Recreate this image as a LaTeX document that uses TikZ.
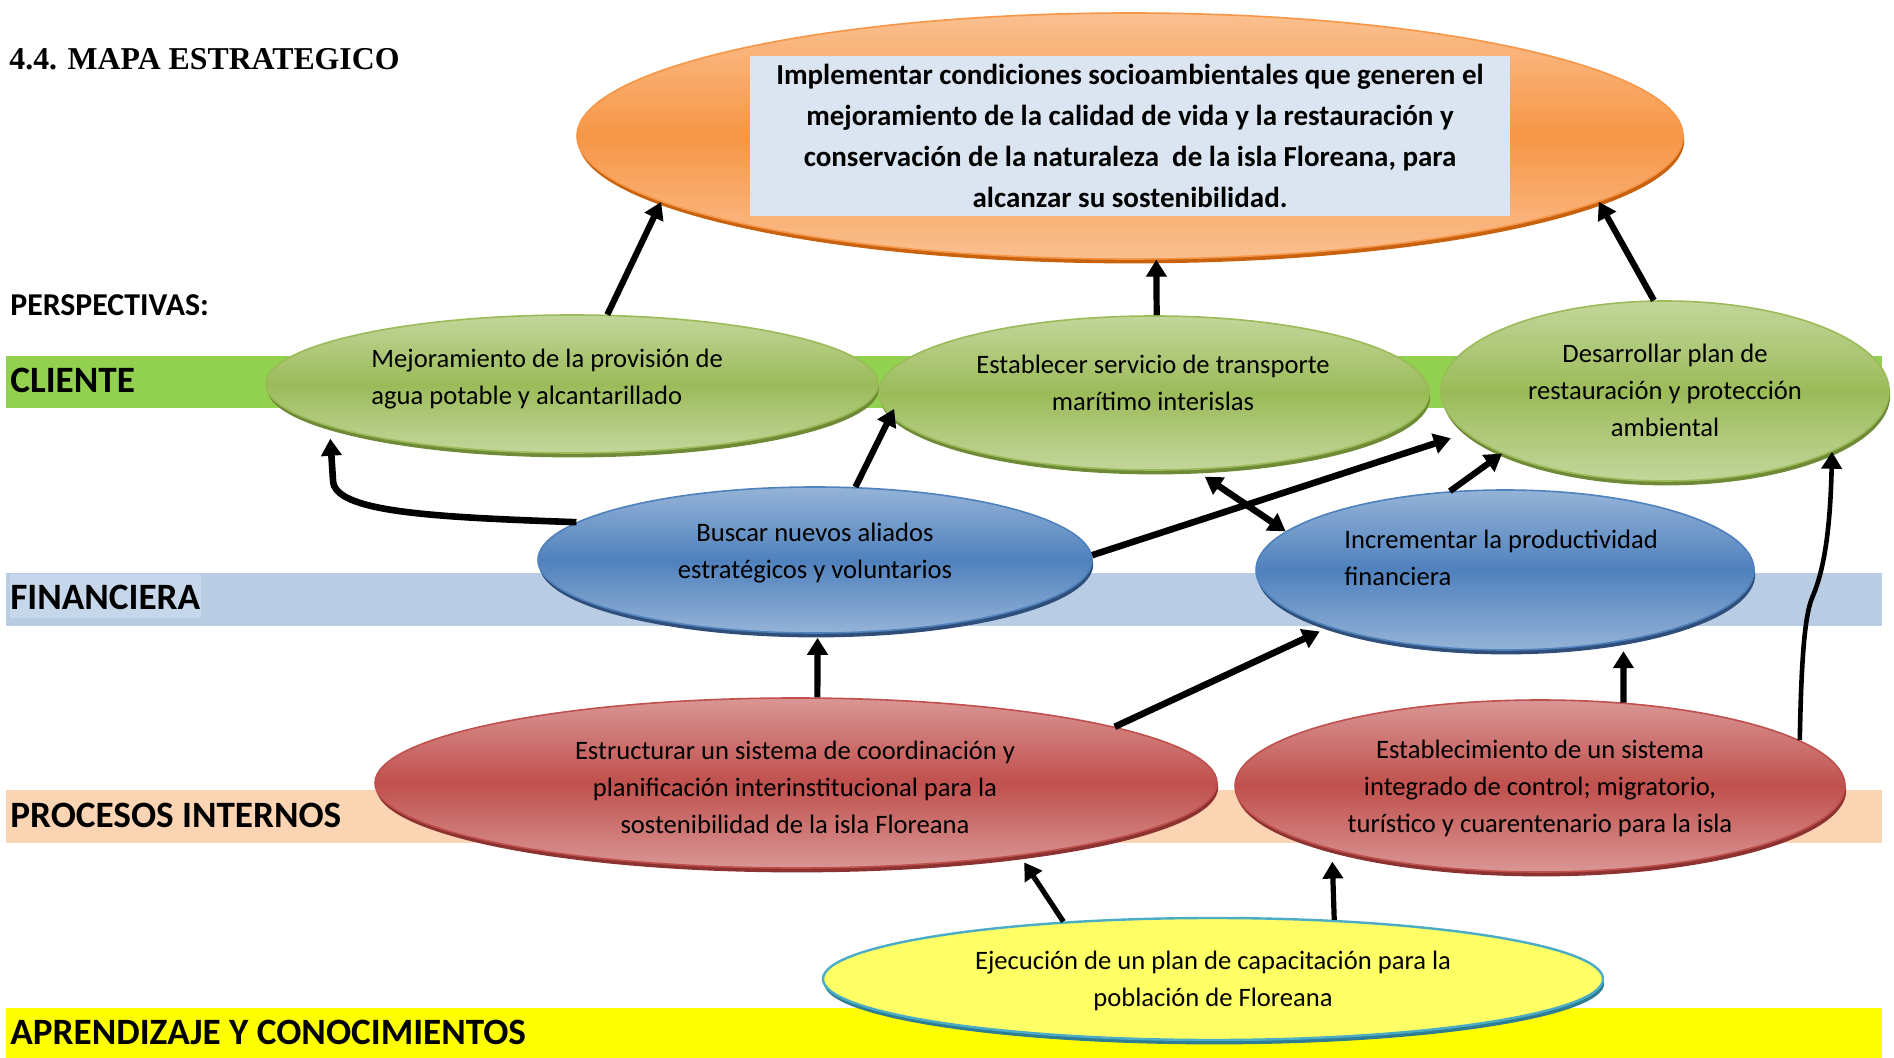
\documentclass[tikz,border=0pt]{standalone}
\usepackage{fontspec}
\setmainfont{Carlito}
\newfontfamily\titlefont{Liberation Serif}
\usetikzlibrary{shapes.geometric,arrows.meta,shadows,calc}
\definecolor{orL}{HTML}{FAC090}
\definecolor{orD}{HTML}{F79646}
\definecolor{orS}{HTML}{C8620E}
\definecolor{grL}{HTML}{C3D69B}
\definecolor{grD}{HTML}{9BBB59}
\definecolor{grS}{HTML}{6E8A36}
\definecolor{blL}{HTML}{95B3D7}
\definecolor{blD}{HTML}{4F81BD}
\definecolor{blS}{HTML}{2F4F7A}
\definecolor{rdL}{HTML}{D99694}
\definecolor{rdD}{HTML}{C0504D}
\definecolor{rdS}{HTML}{8C3230}
\definecolor{ylF}{HTML}{FFFF66}
\definecolor{ylE}{HTML}{4BACC6}
\definecolor{ylS}{HTML}{2E7D92}
\definecolor{bandG}{HTML}{92D050}
\definecolor{bandB}{HTML}{B8CCE4}
\definecolor{bandBL}{HTML}{C6D6EB}
\definecolor{bandP}{HTML}{FBD4B4}
\definecolor{bandY}{HTML}{FFFF00}
\definecolor{boxB}{HTML}{DBE5F1}
\tikzset{
  ov/.style={ellipse, inner sep=0pt, line width=0.8pt},
  ovO/.style={ov, draw=orD, top color=orL, bottom color=orL, middle color=orD,
     drop shadow={shadow xshift=0.6pt, shadow yshift=-2.2pt, fill=orS, opacity=1}},
  ovG/.style={ov, draw=grD, top color=grL, bottom color=grL, middle color=grD,
     drop shadow={shadow xshift=0.6pt, shadow yshift=-2.2pt, fill=grS, opacity=1}},
  ovB/.style={ov, draw=blD, top color=blL, bottom color=blL, middle color=blD,
     drop shadow={shadow xshift=0.6pt, shadow yshift=-2.2pt, fill=blS, opacity=1}},
  ovR/.style={ov, draw=rdD, top color=rdL, bottom color=rdL, middle color=rdD,
     drop shadow={shadow xshift=0.6pt, shadow yshift=-2.2pt, fill=rdS, opacity=1}},
  ovY/.style={ov, draw=ylE, line width=1.2pt, fill=ylF,
     drop shadow={shadow xshift=0.6pt, shadow yshift=-2.2pt, fill=ylS, opacity=1}},
  txt/.style={inner sep=0pt, font=\fontsize{13.3}{18.5}\selectfont},
  lab/.style={inner sep=0pt, anchor=west, font=\bfseries\fontsize{18.6}{22}\selectfont},
  arr/.style={-{Triangle[length=8.5pt,width=10pt]}, line width=3.1pt},
  darr/.style={{Triangle[length=8.5pt,width=10pt]}-{Triangle[length=8.5pt,width=10pt]}, line width=3.3pt}
}
\begin{document}
\begin{tikzpicture}[x=0.5pt,y=-0.5pt]
\useasboundingbox (0,0) rectangle (1894,1058);
\fill[white] (0,0) rectangle (1894,1058);
% bands
\fill[bandG] (6,356) rectangle (1882,408);
\fill[bandB] (6,573) rectangle (1882,626);
\fill[bandBL] (10,574) rectangle (201,618);
\fill[bandP] (6,790) rectangle (1882,843);
\fill[bandY] (6,1008) rectangle (1882,1058);
% labels
\node[inner sep=0pt, anchor=west, font=\titlefont\bfseries\fontsize{15.9}{18}\selectfont] (title) at (9,59) {4.4. MAPA ESTRATEGICO};
\node[inner sep=0pt, anchor=west, font=\bfseries\fontsize{15.9}{18}\selectfont] (persp) at (10,305) {PERSPECTIVAS:};
\node[lab] (lcli) at (10,380) {CLIENTE};
\node[lab] (lfin) at (10,597) {FINANCIERA};
\node[lab] (lpro) at (10,815) {PROCESOS INTERNOS};
\node[lab] (lapr) at (10,1032) {APRENDIZAJE Y CONOCIMIENTOS};
% ellipses
\node[ovO, minimum width=553pt, minimum height=123pt] (O) at (1130,136) {};
\node[fill=boxB, inner sep=0pt, minimum width=380pt, minimum height=80pt, align=center,
  font=\bfseries\fontsize{14.5}{20.5}\selectfont] (Otxt) at (1130,136)
  {Implementar condiciones socioambientales que generen el\\
   mejoramiento de la calidad de vida y la restauración y\\
   conservación de la naturaleza\ \ de la isla Floreana, para\\
   alcanzar su sostenibilidad.};
\node[ovG, minimum width=306pt, minimum height=69pt] (G1) at (572,384) {};
\node[ovG, minimum width=275pt, minimum height=77pt] (G2) at (1154,393) {};
\node[ovG, minimum width=224pt, minimum height=90pt] (G3) at (1665,391) {};
\node[ovB, minimum width=277pt, minimum height=73pt] (B1) at (815,560) {};
\node[ovB, minimum width=249pt, minimum height=80pt] (B2) at (1505,570) {};
\node[ovR, minimum width=421pt, minimum height=85pt] (R1) at (796,783) {};
\node[ovR, minimum width=305pt, minimum height=86pt] (R2) at (1540,786) {};
\node[ovY, minimum width=390pt, minimum height=61pt] (Y) at (1213,979) {};
% texts
\node[txt, align=left, anchor=west] (G1t) at (371,379) {Mejoramiento de la provisión de\\agua potable y alcantarillado};
\node[txt, align=center] (G2t) at (1153,383) {Establecer servicio de transporte\\marítimo interislas};
\node[txt, align=center] (G3t) at (1665,390) {Desarrollar plan de\\restauración y protección\\ambiental};
\node[txt, align=center] (B1t) at (815,553) {Buscar nuevos aliados\\estratégicos y voluntarios};
\node[txt, align=left, anchor=west] (B2t) at (1344,558) {Incrementar la productividad\\financiera};
\node[txt, align=center] (R1t) at (795,787) {Estructurar un sistema de coordinación y\\planificación interinstitucional para la\\sostenibilidad de la isla Floreana};
\node[txt, align=center] (R2t) at (1540,788) {Establecimiento de un sistema\\integrado de control; migratorio,\\turístico y cuarentenario para la isla};
\node[txt, align=center] (Yt) at (1213,981) {Ejecución de un plan de capacitación para la\\población de Floreana};
% arrows
\draw[arr] (G1.63) -- (O.188);
\draw[arr] (G2.88) -- (O.282);
\draw[arr] (G3.97) -- (O.352);
\draw[arr, line width=3.3pt, shorten >=6pt] (B1.171) .. controls (430,517) and (333,512) .. (333,480) -- (G1.190);
\draw[arr, shorten >=-4pt] (B1.61) -- (G2.185);
\draw[arr, line width=3.3pt, shorten >=8pt] (B1.1) -- (G3.192);
\draw[darr, shorten <=6pt] (G2.298) -- (B2.170);
\draw[arr] (B2.125) -- (G3.201);
\draw[arr, shorten >=2pt] (R1.76) -- (B1.272);
\draw[arr, line width=3.3pt, shorten >=5pt] (R1.10) -- (B2.198);
\draw[arr, shorten >=5pt] (R2.45) -- (B2.329);
\draw[arr, line width=2.3pt] (R2.10) .. controls (1801,680) and (1803,620) .. (1812,598) .. controls (1822,575) and (1830,540) .. (G3.340);
\draw[arr, line width=2.6pt, shorten >=4pt] (Y.159) -- (R1.342);
\draw[arr, line width=2.6pt, shorten >=6pt] (Y.26) -- (R2.197);
\end{tikzpicture}
\end{document}
